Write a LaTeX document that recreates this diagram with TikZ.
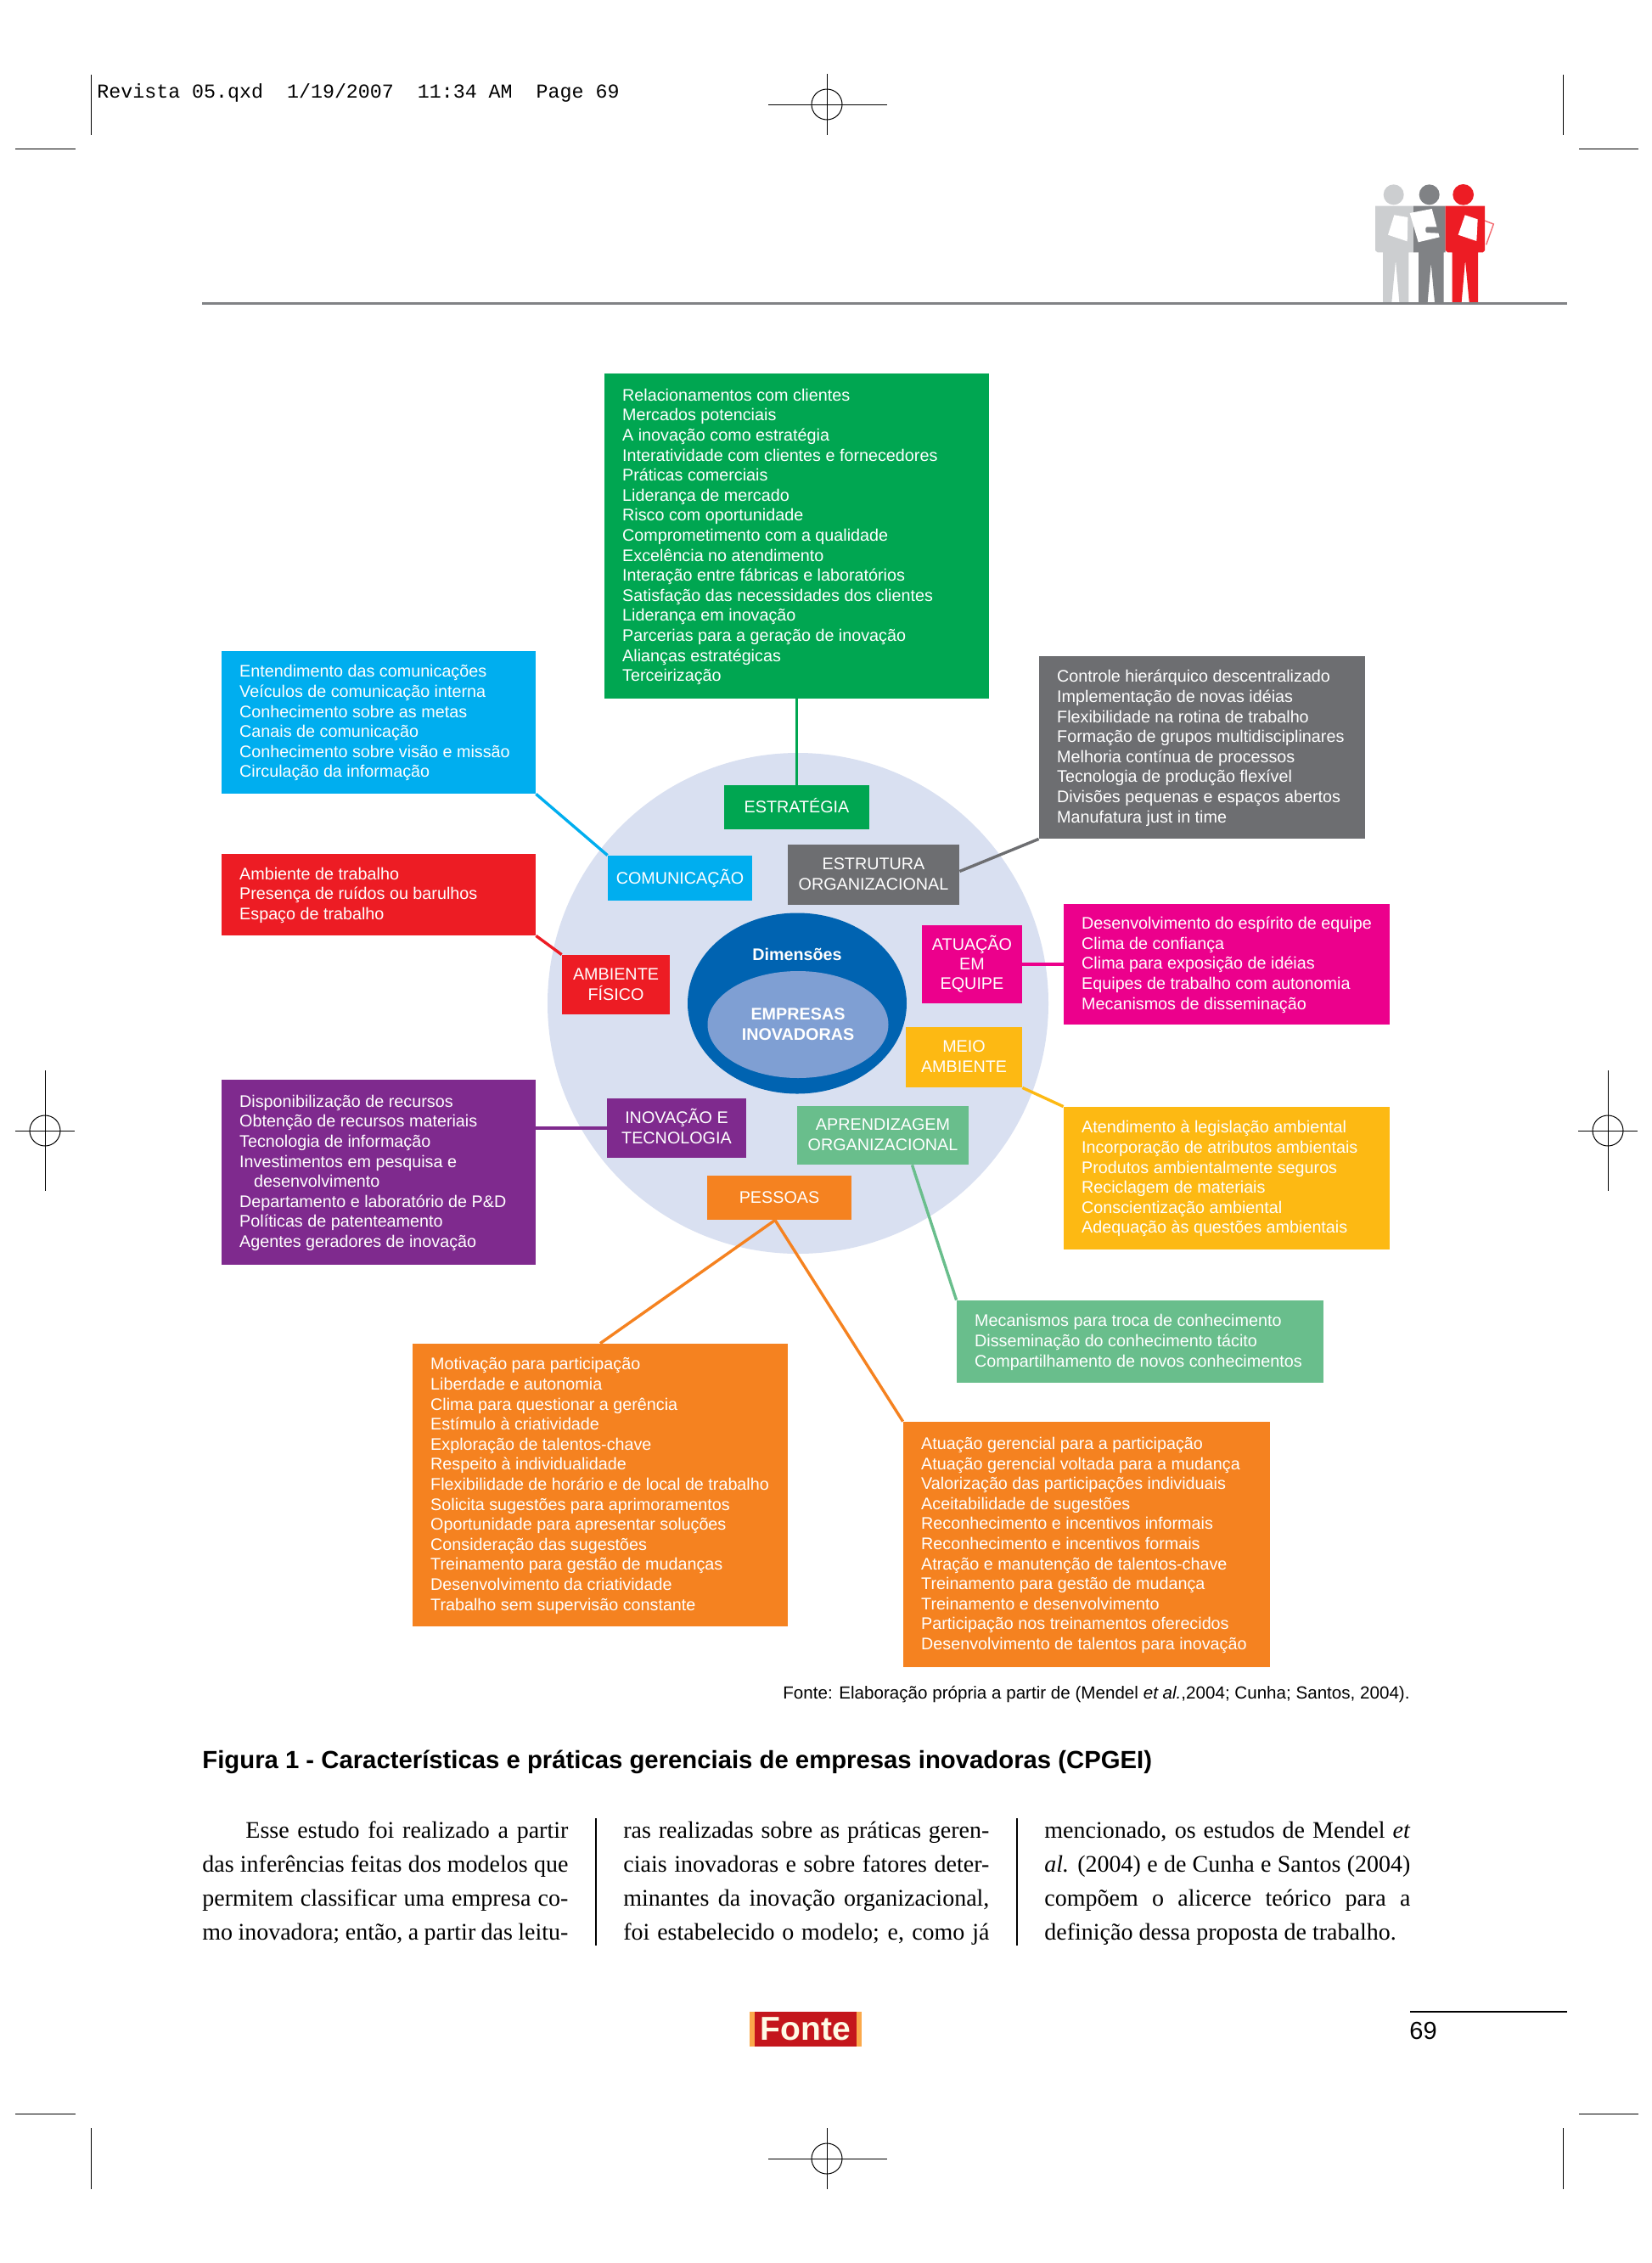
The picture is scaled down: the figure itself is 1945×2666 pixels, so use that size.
\documentclass[tikz,border=0pt]{standalone}
\usepackage{fontspec}
\usetikzlibrary{calc,shapes.geometric}
\setmainfont{Liberation Sans}
\newfontfamily\serifface{Liberation Serif}
\newfontfamily\monoface{Liberation Mono}
\definecolor{cGreen}{HTML}{00A651}
\definecolor{cCyan}{HTML}{00AEEF}
\definecolor{cGray}{HTML}{6D6E71}
\definecolor{cRed}{HTML}{ED1C24}
\definecolor{cMag}{HTML}{EC008C}
\definecolor{cYel}{HTML}{FDB913}
\definecolor{cPur}{HTML}{7F2A8E}
\definecolor{cLG}{HTML}{69BE8C}
\definecolor{cOra}{HTML}{F58220}
\definecolor{cLav}{HTML}{D9E0F1}
\definecolor{cBlue}{HTML}{0063B1}
\definecolor{cIn}{HTML}{7F9FD3}
\definecolor{cRule}{HTML}{808285}
\definecolor{cP1}{HTML}{CCCED0}
\definecolor{cLogo}{HTML}{C4161C}
\definecolor{cStripe}{HTML}{FBA94B}
\definecolor{cCream}{HTML}{FFFBE6}
\tikzset{
  bigbox/.style={inner xsep=10.6pt,inner ysep=0pt,text=white,
    font=\fontsize{9.88}{11.8}\selectfont},
  tagbox/.style={inner sep=0pt,text=white,
    font=\fontsize{9.88}{11.7}\selectfont},
  link/.style={line width=1.7pt},
  crop/.style={line width=0.5pt,black},
  plainlabel/.style={inner sep=0pt,anchor=base west},
  bodytext/.style={inner sep=0pt,anchor=north west,align=left,
    font=\serifface\fontsize{14}{20}\selectfont},
  sepline/.style={line width=0.55pt,black},
  boldtag/.style={inner sep=0pt,align=center,text=white,
    font=\bfseries\fontsize{9.88}{11.9}\selectfont},
}
% #1 kind #2 name #3 x1 #4 y1 #5 x2 #6 y2 #7 colour #8 text   (pixel units, 1px = .5pt)
\newcommand\pbox[8]{%
  \pgfmathsetmacro\bw{(#5-#3)*0.5}\pgfmathsetmacro\bh{(#6-#4)*0.5}%
  \pgfmathsetmacro\bcx{(#3+#5)/2}\pgfmathsetmacro\bcy{(#4+#6)/2}%
  \pgfmathsetmacro\btw{\bw-21.2}%
  \ifx#1b\relax
    \node[bigbox,fill=#7,minimum height=\bh pt] (#2) at (\bcx,\bcy) {\vbox{\kern1.2pt\hbox{\makebox[\btw pt][l]{\begin{tabular}{@{}l@{}}#8\end{tabular}}}}};%
  \else
    \node[tagbox,fill=#7,minimum height=\bh pt,minimum width=\bw pt] (#2) at (\bcx,\bcy) {\vbox{\kern1.4pt\hbox{\begin{tabular}{@{}c@{}}#8\end{tabular}}}};%
  \fi}
\newcommand\regmark[5]{% cx cy half-h-left half-h-right half-v
  \draw[crop] (#1-#3,#2) -- (#1+#4,#2) (#1,#2-#5) -- (#1,#2+#5);
  \draw[crop] (#1,#2) circle[radius=18];}
\newcommand\jline[1]{\makebox[215.5pt][s]{#1}}
\begin{document}
\begin{tikzpicture}[x=0.5pt,y=-0.5pt]
\useasboundingbox[fill=white] (0,0) rectangle (1945,2666);
% crop marks
\draw[crop] (107,88)--(107,159) (18,175)--(89,175) (1841,88)--(1841,159) (1860,175)--(1930,175);
\draw[crop] (107,2507)--(107,2579) (18,2490)--(89,2490) (1841,2507)--(1841,2579) (1860,2490)--(1930,2490);
\regmark{974}{123}{69}{71}{36}
\regmark{974}{2543}{69}{71}{36}
\regmark{53}{1332}{35}{35}{71}
\regmark{1894}{1332}{35}{35}{71}
\node[plainlabel,font=\monoface\fontsize{11.65}{12}\selectfont] (slug) at (114,115) {Revista 05.qxd\ \ 1/19/2007\ \ 11:34 AM\ \ Page 69};
% people icon
\begin{scope}[shift={(1500,180)},x=0.16667pt,y=-0.16667pt]
  \fill[cP1] (425,148) circle[radius=36];
  \fill[cRule] (551,148) circle[radius=36];
  \fill[cRed] (671,148) circle[radius=37];
  \fill[cP1] (360,188)--(495,188)--(495,352)--(478,352)--(478,528)--(445,528)--(432,380)--(418,528)--(387,528)--(387,352)--(368,352)--(360,345)--cycle;
  \fill[cRule] (495,188)--(608,188)--(608,352)--(602,352)--(602,528)--(570,528)--(557,390)--(545,528)--(513,528)--(513,352)--(495,352)--cycle;
  \fill[cRed] (608,188)--(747,188)--(747,345)--(740,352)--(723,352)--(723,528)--(692,528)--(678,380)--(665,528)--(632,528)--(632,352)--(616,352)--(608,345)--cycle;
  \fill[white] (427,220)--(475,228)--(473,313)--(405,290)--cycle;
  \fill[white] (482,213)--(560,198)--(587,298)--(512,316)--cycle;
  \fill[cRule,rounded corners=1pt] (538,262)--(590,262)--(608,285)--(538,282)--cycle;
  \fill[white] (677,220)--(722,235)--(718,312)--(653,290)--cycle;
  \draw[cRed!65,line width=0.7pt] (747,240)--(778,252)--(752,325);
\end{scope}
\draw[cRule,line width=1.5pt] (238,357)--(1846,357);
% central circle
\node[circle,fill=cLav,minimum size=295pt,inner sep=0pt] (disc) at (940,1182) {};
\node[ellipse,fill=cBlue,minimum width=129pt,minimum height=106.5pt,inner sep=0pt] (outerell) at (939,1182) {};
\node[ellipse,fill=cIn,minimum width=106.5pt,minimum height=63pt,inner sep=0pt,boldtag] (innerell) at (940,1207) {EMPRESAS\\INOVADORAS};
\node[boldtag] (dim) at (939,1124) {Dimensões};
% tags
\pbox{t}{estr}{853}{925}{1024}{977}{cGreen}{ESTRATÉGIA}
\pbox{t}{comu}{716}{1008}{886}{1061}{cCyan}{COMUNICAÇÃO}
\pbox{t}{estrut}{928}{995}{1130}{1066}{cGray}{ESTRUTURA\\ORGANIZACIONAL}
\pbox{t}{atua}{1086}{1090}{1204}{1182}{cMag}{ATUAÇÃO\\EM\\EQUIPE}
\pbox{t}{ambf}{662}{1125}{789}{1195}{cRed}{AMBIENTE\\FÍSICO}
\pbox{t}{meio}{1067}{1210}{1204}{1281}{cYel}{MEIO\\AMBIENTE}
\pbox{t}{inov}{715}{1294}{879}{1364}{cPur}{INOVAÇÃO E\\TECNOLOGIA}
\pbox{t}{apre}{939}{1303}{1141}{1372}{cLG}{APRENDIZAGEM\\ORGANIZACIONAL}
\pbox{t}{pess}{833}{1385}{1003}{1437}{cOra}{PESSOAS}
% big boxes
\pbox{b}{bgreen}{712}{440}{1165}{823}{cGreen}{Relacionamentos com clientes\\Mercados potenciais\\A inovação como estratégia\\Interatividade com clientes e fornecedores\\Práticas comerciais\\Liderança de mercado\\Risco com oportunidade\\Comprometimento com a qualidade\\Excelência no atendimento\\Interação entre fábricas e laboratórios\\Satisfação das necessidades dos clientes\\Liderança em inovação\\Parcerias para a geração de inovação\\Alianças estratégicas\\Terceirização}
\pbox{b}{bcyan}{261}{767}{631}{935}{cCyan}{Entendimento das comunicações\\Veículos de comunicação interna\\Conhecimento sobre as metas\\Canais de comunicação\\Conhecimento sobre visão e missão\\Circulação da informação}
\pbox{b}{bred}{261}{1006}{631}{1102}{cRed}{Ambiente de trabalho\\Presença de ruídos ou barulhos\\Espaço de trabalho}
\pbox{b}{bgray}{1224}{773}{1608}{988}{cGray}{Controle hierárquico descentralizado\\Implementação de novas idéias\\Flexibilidade na rotina de trabalho\\Formação de grupos multidisciplinares\\Melhoria contínua de processos\\Tecnologia de produção flexível\\Divisões pequenas e espaços abertos\\Manufatura just in time}
\pbox{b}{bmag}{1253}{1065}{1637}{1207}{cMag}{Desenvolvimento do espírito de equipe\\Clima de confiança\\Clima para exposição de idéias\\Equipes de trabalho com autonomia\\Mecanismos de disseminação}
\pbox{b}{byel}{1253}{1304}{1637}{1472}{cYel}{Atendimento à legislação ambiental\\Incorporação de atributos ambientais\\Produtos ambientalmente seguros\\Reciclagem de materiais\\Conscientização ambiental\\Adequação às questões ambientais}
\pbox{b}{bpur}{261}{1272}{631}{1490}{cPur}{Disponibilização de recursos\\Obtenção de recursos materiais\\Tecnologia de informação\\Investimentos em pesquisa e\\\hspace*{8.5pt}desenvolvimento\\Departamento e laboratório de P\&D\\Políticas de patenteamento\\Agentes geradores de inovação}
\pbox{b}{blg}{1127}{1532}{1559}{1629}{cLG}{Mecanismos para troca de conhecimento\\Disseminação do conhecimento tácito\\Compartilhamento de novos conhecimentos}
\pbox{b}{bora}{486}{1583}{928}{1916}{cOra}{Motivação para participação\\Liberdade e autonomia\\Clima para questionar a gerência\\Estímulo à criatividade\\Exploração de talentos-chave\\Respeito à individualidade\\Flexibilidade de horário e de local de trabalho\\Solicita sugestões para aprimoramentos\\Oportunidade para apresentar soluções\\Consideração das sugestões\\Treinamento para gestão de mudanças\\Desenvolvimento da criatividade\\Trabalho sem supervisão constante}
\pbox{b}{borb}{1064}{1675}{1496}{1964}{cOra}{Atuação gerencial para a participação\\Atuação gerencial voltada para a mudança\\Valorização das participações individuais\\Aceitabilidade de sugestões\\Reconhecimento e incentivos informais\\Reconhecimento e incentivos formais\\Atração e manutenção de talentos-chave\\Treinamento para gestão de mudança\\Treinamento e desenvolvimento\\Participação nos treinamentos oferecidos\\Desenvolvimento de talentos para inovação}
% connectors
\draw[link,cGreen] (bgreen.south) -- (estr.north);
\draw[link,cCyan] (bcyan.south east) -- (comu.north west);
\draw[link,cGray] (bgray.south west) -- ($(estrut.east)+(0,-4)$);
\draw[link,cRed] (bred.south east) -- (ambf.north west);
\draw[link,cMag] (atua.east) -- (atua.east -| bmag.west);
\draw[link,cYel] (meio.south east) -- (byel.north west);
\draw[link,cPur] (inov.west) -- (inov.west -| bpur.east);
\draw[link,cLG] ($(apre.south west)!0.67!(apre.south east)$) -- (blg.north west);
\draw[link,cOra] ($(pess.south)+(-5,0)$) -- (bora.north);
\draw[link,cOra] ($(pess.south)+(-5,0)$) -- (borb.north west);
% captions
\node[plainlabel,anchor=base east,font=\fontsize{10.3}{11}\selectfont] (source) at (1661,2001) {Fonte: Elaboração própria a partir de (Mendel \textit{et al.},2004; Cunha; Santos, 2004).};
\node[plainlabel,font=\bfseries\fontsize{14.65}{16}\selectfont] (caption) at (238,2083) {Figura 1 - Características e práticas gerenciais de empresas inovadoras (CPGEI)};
% body text
\node[bodytext] (col1) at (238,2145.5) {\jline{\hspace{25.5pt}Esse estudo foi realizado a partir}\\\jline{das inferências feitas dos modelos que}\\\jline{permitem classificar uma empresa co-}\\\jline{mo inovadora; então, a partir das leitu-}};
\node[bodytext] (col2) at (734,2145.5) {\jline{ras realizadas sobre as práticas geren-}\\\jline{ciais inovadoras e sobre fatores deter-}\\\jline{minantes da inovação organizacional,}\\\jline{foi estabelecido o modelo; e, como já}};
\node[bodytext] (col3) at (1230,2145.5) {\jline{mencionado, os estudos de Mendel \textit{et}}\\\jline{\textit{al.} (2004) e de Cunha e Santos (2004)}\\\jline{compõem o alicerce teórico para a}\\definição dessa proposta de trabalho.};
\draw[sepline] (702,2142)--(702,2292);
\draw[sepline] (1198,2142)--(1198,2292);
% logo
\node[fill=cStripe,minimum width=66pt,minimum height=20.5pt,inner sep=0pt] (logostripe) at (949,2390.5) {};
\node[fill=cLogo,minimum width=60pt,minimum height=20.5pt,inner sep=0pt,text=cCream,font=\bfseries\fontsize{19.5}{20}\selectfont] (logo) at (949,2390.5) {Fonte};
% folio
\draw[line width=1pt,black] (1661,2370)--(1846,2370);
\node[plainlabel,font=\fontsize{14.5}{16}\selectfont] (folio) at (1660,2402) {69};
\end{tikzpicture}
\end{document}
